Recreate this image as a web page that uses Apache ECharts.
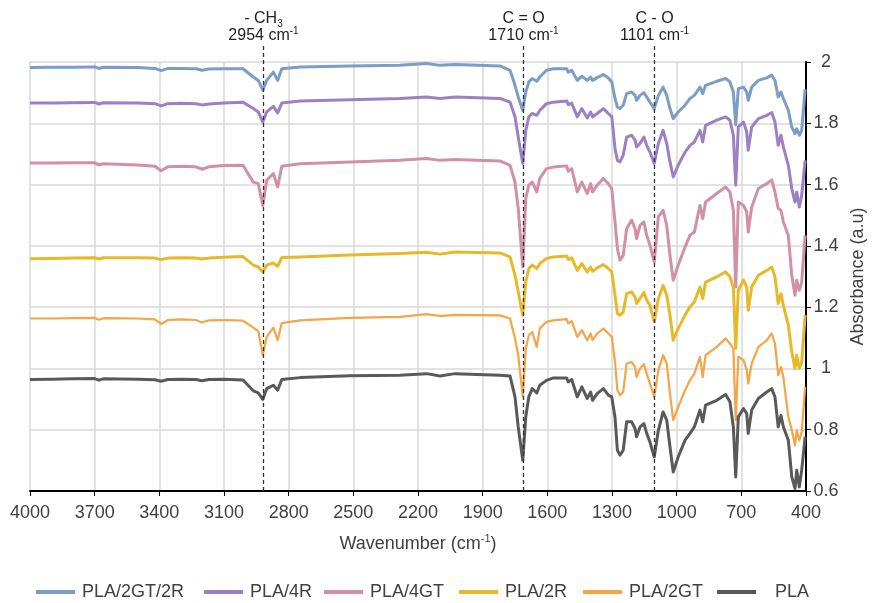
<!DOCTYPE html>
<html><head><meta charset="utf-8">
<script src="https://cdn.jsdelivr.net/npm/echarts/dist/echarts.min.js"></script>
<style>html,body{margin:0;padding:0;background:#fff}#c{width:875px;height:603px}</style>
</head><body><div id="c"></div>
<script>
// Wavenumber (cm-1) sampling points shared by all spectra
const wavenumbers = [4000,3900,3800,3700,3680,3660,3500,3420,3392,3360,3300,3230,3202,3170,3100,3012,
 2964,2941,2920,2902,2871,2851,2832,2747,2516,2284,2160,2098,2028,1820,1773,1750,1735,1714,1700,1686,1670,1649,1635,1604,1572,1510,1503,1487,1461,1440,1415,1399,1390,1369,1340,1317,1301,1286,1275,1263,1248,1232,1209,1193,1186,1170,1152,1139,1124,1104,1085,1063,1046,1031,1016,993,961,938,918,892,879,866,814,773,753,737,726,714,690,675,668,652,621,582,559,544,529,516,505,482,466,451,443,431,420,404];

const absPLA_2GT_2R = [1.982,1.983,1.983,1.984,1.979,1.983,1.982,1.979,1.972,1.979,1.979,1.978,1.973,1.977,1.978,1.978,
 1.951,1.940,1.908,1.940,1.967,1.940,1.978,1.984,1.987,1.989,1.995,1.989,1.992,1.987,1.973,1.924,1.886,1.842,1.902,1.935,1.946,1.937,1.951,1.973,1.978,1.978,1.967,1.973,1.940,1.954,1.940,1.951,1.940,1.949,1.959,1.948,1.935,1.881,1.853,1.848,1.859,1.897,1.902,1.891,1.875,1.891,1.900,1.886,1.869,1.848,1.891,1.918,1.891,1.848,1.815,1.837,1.859,1.881,1.891,1.918,1.897,1.924,1.937,1.946,1.935,1.902,1.795,1.913,1.918,1.902,1.875,1.918,1.940,1.948,1.957,1.940,1.886,1.902,1.881,1.842,1.788,1.766,1.782,1.761,1.777,1.911];

const absPLA_4R = [1.866,1.866,1.867,1.868,1.863,1.867,1.866,1.864,1.857,1.864,1.865,1.864,1.860,1.863,1.866,1.869,
 1.848,1.837,1.804,1.837,1.855,1.834,1.866,1.873,1.877,1.881,1.886,1.881,1.886,1.881,1.869,1.821,1.755,1.669,1.777,1.821,1.832,1.826,1.842,1.864,1.869,1.873,1.861,1.866,1.821,1.848,1.817,1.837,1.821,1.832,1.848,1.832,1.821,1.717,1.679,1.674,1.696,1.755,1.761,1.745,1.723,1.734,1.755,1.728,1.706,1.669,1.734,1.777,1.734,1.674,1.625,1.663,1.706,1.728,1.739,1.777,1.739,1.793,1.810,1.821,1.810,1.761,1.598,1.788,1.804,1.772,1.712,1.788,1.815,1.826,1.835,1.804,1.728,1.761,1.723,1.663,1.587,1.543,1.576,1.527,1.565,1.679];

const absPLA_4GT = [1.670,1.670,1.671,1.671,1.664,1.668,1.664,1.660,1.645,1.658,1.660,1.658,1.650,1.658,1.662,1.663,
 1.608,1.603,1.532,1.614,1.636,1.592,1.660,1.668,1.674,1.679,1.685,1.679,1.682,1.677,1.663,1.608,1.522,1.331,1.554,1.598,1.608,1.576,1.620,1.652,1.657,1.661,1.643,1.652,1.576,1.608,1.571,1.603,1.576,1.598,1.620,1.603,1.587,1.478,1.391,1.353,1.369,1.456,1.484,1.456,1.424,1.467,1.478,1.435,1.402,1.347,1.495,1.516,1.467,1.369,1.288,1.337,1.396,1.435,1.445,1.532,1.489,1.543,1.571,1.592,1.576,1.516,1.266,1.543,1.532,1.511,1.445,1.527,1.587,1.603,1.615,1.576,1.522,1.516,1.478,1.434,1.304,1.239,1.288,1.255,1.281,1.434];

const absPLA_2R = [1.358,1.359,1.360,1.361,1.357,1.361,1.361,1.360,1.355,1.360,1.361,1.360,1.357,1.360,1.363,1.365,
 1.337,1.331,1.315,1.337,1.344,1.333,1.362,1.364,1.370,1.375,1.379,1.373,1.380,1.377,1.364,1.304,1.250,1.174,1.282,1.326,1.337,1.326,1.342,1.359,1.364,1.367,1.356,1.361,1.320,1.342,1.315,1.331,1.317,1.328,1.339,1.326,1.315,1.239,1.179,1.174,1.184,1.244,1.250,1.233,1.212,1.228,1.248,1.223,1.206,1.152,1.228,1.271,1.239,1.174,1.092,1.130,1.174,1.201,1.217,1.266,1.228,1.282,1.299,1.315,1.299,1.265,1.065,1.255,1.288,1.266,1.190,1.266,1.304,1.320,1.331,1.299,1.212,1.244,1.206,1.141,1.054,1.000,1.043,1.000,1.020,1.174];

const absPLA_2GT = [1.163,1.163,1.164,1.165,1.159,1.164,1.163,1.160,1.145,1.158,1.160,1.158,1.150,1.157,1.158,1.156,
 1.133,1.122,1.043,1.103,1.133,1.092,1.148,1.157,1.165,1.168,1.177,1.171,1.175,1.173,1.163,1.098,1.043,0.909,1.065,1.108,1.119,1.070,1.130,1.152,1.157,1.161,1.147,1.154,1.103,1.125,1.092,1.114,1.092,1.114,1.130,1.114,1.103,1.021,0.929,0.913,0.923,1.016,1.021,1.005,0.972,1.000,1.014,0.983,0.951,0.907,0.994,1.043,1.016,0.918,0.831,0.874,0.929,0.962,0.983,1.038,0.972,1.043,1.070,1.098,1.081,1.065,0.831,1.038,1.027,0.994,0.951,1.016,1.070,1.092,1.114,1.081,0.978,1.005,0.972,0.842,0.798,0.749,0.798,0.766,0.792,0.940];

const absPLA = [0.964,0.965,0.966,0.967,0.962,0.966,0.965,0.963,0.958,0.964,0.965,0.964,0.960,0.964,0.965,0.962,
 0.927,0.920,0.899,0.934,0.945,0.929,0.964,0.970,0.976,0.978,0.983,0.975,0.983,0.978,0.975,0.907,0.809,0.700,0.842,0.907,0.934,0.920,0.945,0.961,0.969,0.969,0.956,0.964,0.907,0.940,0.902,0.923,0.896,0.918,0.934,0.913,0.907,0.840,0.733,0.717,0.733,0.826,0.826,0.804,0.777,0.809,0.820,0.788,0.760,0.711,0.798,0.858,0.831,0.744,0.662,0.711,0.766,0.788,0.809,0.864,0.826,0.880,0.896,0.915,0.891,0.809,0.646,0.842,0.869,0.853,0.788,0.864,0.902,0.923,0.934,0.907,0.809,0.847,0.809,0.766,0.646,0.608,0.668,0.613,0.668,0.777];

const seriesNames = ['PLA/2GT/2R','PLA/4R','PLA/4GT','PLA/2R','PLA/2GT','PLA'];
const seriesValues = [absPLA_2GT_2R, absPLA_4R, absPLA_4GT, absPLA_2R, absPLA_2GT, absPLA];
const seriesColors = ['#7b9dc7','#9b80c5','#d290a6','#e6b92a','#f5a446','#595959'];
const seriesWidths = [3,3,3,3,2.2,3];

const xMin = 400, xMax = 4000, xStep = 300;
const yMin = 0.6, yMax = 2, yStep = 0.2;

// Peak annotations
const peakPos = [2921, 1712, 1103];
const peakGroup = ['- CH{sub|3}', 'C = O', 'C - O'];
const peakLabel = ['2954 cm{sup|-1}', '1710 cm{sup|-1}', '1101 cm{sup|-1}'];

const legendLeft = [36, 204, 324, 459, 583, 717];
const legendTextPad = [2, 2, 2, 2, 2, 14];

const FONT = '"Liberation Sans", Arial, sans-serif';
const TXT = '#404040';
const FS = 18;

const chart = echarts.init(document.getElementById('c'), null, {renderer: 'canvas'});

const series = seriesNames.map((n, i) => ({
  name: n, type: 'line', showSymbol: false, symbol: 'none', smooth: false,
  data: wavenumbers.map((w, k) => [w, seriesValues[i][k]]),
  lineStyle: {color: seriesColors[i], width: seriesWidths[i], join: 'round'},
  itemStyle: {color: seriesColors[i]},
  emphasis: {disabled: true}, animation: false, clip: true
}));

const legends = seriesNames.map((n, i) => ({
  data: [n], left: legendLeft[i], top: 583, icon: 'rect', itemWidth: 39, itemHeight: 4,
  padding: 0, itemGap: 0, selectedMode: false,
  textStyle: {fontFamily: FONT, fontSize: FS, color: TXT, padding: [0, 0, 0, legendTextPad[i]]}
}));

chart.setOption({
  animation: false,
  backgroundColor: '#fff',
  textStyle: {fontFamily: FONT},
  grid: {left: 30, right: 69, top: 62, bottom: 112, containLabel: false, outerBoundsMode: 'none'},
  legend: legends,
  xAxis: {
    type: 'value', inverse: true, min: xMin, max: xMax, interval: xStep,
    axisLine: {show: true, onZero: false, lineStyle: {color: '#000', width: 2}},
    axisTick: {show: true, length: 5, lineStyle: {color: '#000', width: 1}},
    axisLabel: {fontFamily: FONT, fontSize: FS, color: TXT, margin: 13, formatter: v => String(v)},
    splitLine: {show: true, lineStyle: {color: '#d9d9d9', width: 1.5}},
    name: 'Wavenumber (cm{sup|-1})', nameLocation: 'middle', nameGap: 42,
    nameTextStyle: {fontFamily: FONT, fontSize: FS, color: TXT, lineHeight: 22,
      rich: {sup: {fontFamily: FONT, fontSize: 11, color: TXT, verticalAlign: 'top'}}}
  },
  yAxis: {
    type: 'value', position: 'right', min: yMin, max: yMax, interval: yStep,
    axisLine: {show: true, onZero: false, lineStyle: {color: '#000', width: 2}},
    axisTick: {show: true, length: 5, lineStyle: {color: '#000', width: 1}},
    axisLabel: {fontFamily: FONT, fontSize: FS, color: TXT, margin: 20, align: 'center',
      formatter: v => String(Math.round(v * 10) / 10)},
    splitLine: {show: true, lineStyle: {color: '#d9d9d9', width: 1.5}},
    name: 'Absorbance (a.u)', nameLocation: 'middle', nameGap: 43,
    nameTextStyle: {fontFamily: FONT, fontSize: FS, color: TXT}
  },
  series: series
});

// Dashed peak markers and their labels, positioned through the axes
const graphics = [];
peakPos.forEach((p, i) => {
  const top = chart.convertToPixel({gridIndex: 0}, [p, yMax]);
  const bot = chart.convertToPixel({gridIndex: 0}, [p, yMin]);
  const x = Math.round(top[0]) + 0.5;
  graphics.push({
    type: 'line', z: 100, silent: true,
    shape: {x1: x, y1: top[1] - 16, x2: x, y2: bot[1]},
    style: {stroke: '#333', lineWidth: 1.3, lineDash: [4, 3]}
  });
  graphics.push({
    type: 'text', z: 100, silent: true, x: x, y: top[1] - 43,
    style: {text: peakGroup[i], fill: '#222', font: '16px ' + FONT, align: 'center', verticalAlign: 'middle',
      lineHeight: 20,
      rich: {sub: {fontSize: 10, fontFamily: FONT, fill: '#222', verticalAlign: 'bottom'}}}
  });
  graphics.push({
    type: 'text', z: 100, silent: true, x: x, y: top[1] - 26,
    style: {text: peakLabel[i], fill: '#222', font: '16px ' + FONT, align: 'center', verticalAlign: 'middle',
      lineHeight: 20,
      rich: {sup: {fontSize: 10, fontFamily: FONT, fill: '#222', verticalAlign: 'top'}}}
  });
});
chart.setOption({graphic: graphics});
</script>
</body></html>
